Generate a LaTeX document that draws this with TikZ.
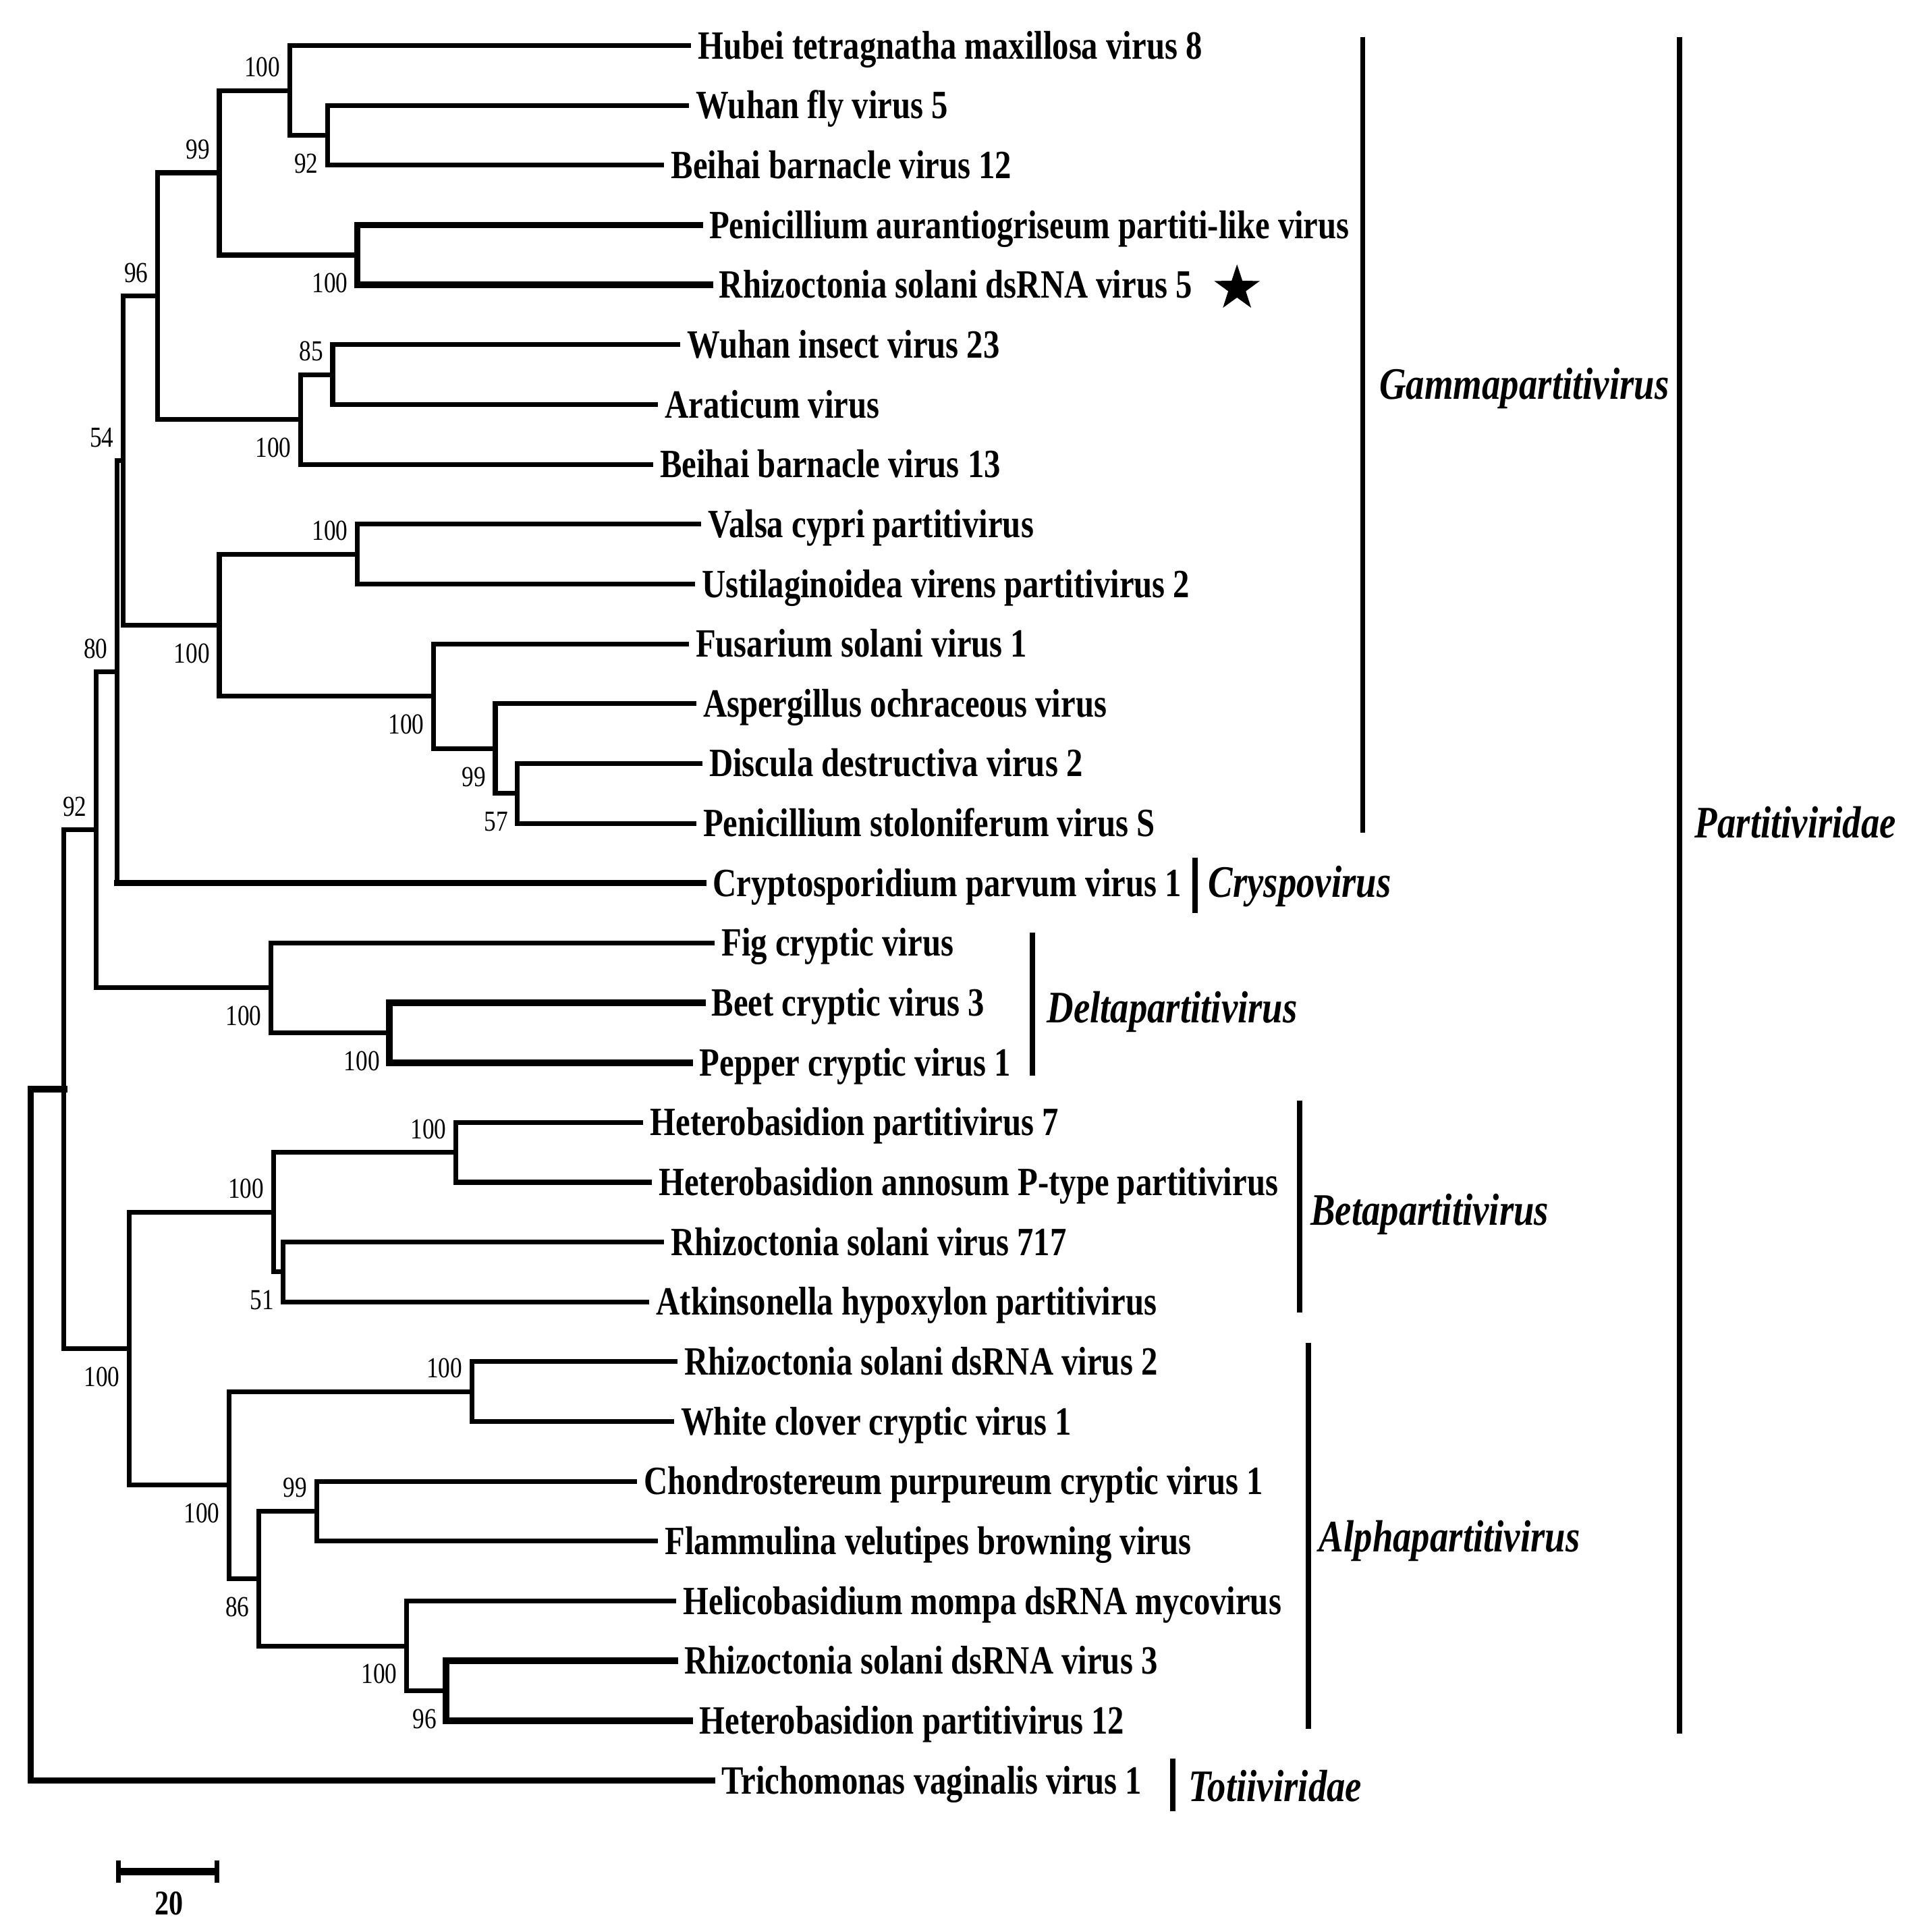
\documentclass[tikz,border=0pt]{standalone}
\usepackage{fontspec}
\setmainfont{Liberation Serif}[FakeStretch=0.82]
\usetikzlibrary{positioning,shapes.geometric}

\tikzset{
  branch/.style={line width=1.1pt, line cap=rect},
  fat/.style={line width=1.5pt},
  leaf/.style={anchor=west, inner xsep=2pt, inner ysep=0pt, text height=6.1pt, text depth=0pt,
    font=\fontsize{9.25}{11}\selectfont\bfseries},
  boot/.style={inner xsep=2pt, text height=4.5pt, text depth=0pt, font=\fontsize{6.7}{8}\selectfont},
  bsup/.style={boot, anchor=south east, inner ysep=3pt},
  bsdn/.style={boot, anchor=north east, inner ysep=4pt},
  clade/.style={anchor=west, inner sep=0pt, text height=6.9pt, text depth=0pt,
    font=\fontsize{10.4}{12}\selectfont\bfseries\itshape},
  bar/.style={line width=1.2pt},
}

\begin{document}
\begin{tikzpicture}[x=0.01cm, y=-0.01cm]
  \useasboundingbox (0,0) rectangle (1551,1568);

  % taxa
  \node[leaf] (hubei) at (559,37) {Hubei tetragnatha maxillosa virus 8};
  \node[leaf] (wfly) at (557,85.6) {Wuhan fly virus 5};
  \node[leaf] (bb12) at (537,134.1) {Beihai barnacle virus 12};
  \node[leaf] (pap) at (568,182.7) {Penicillium aurantiogriseum partiti-like virus};
  \node[leaf] (rs5) at (576,231.2) {Rhizoctonia solani dsRNA virus 5};
  \node[leaf] (wi23) at (550,279.8) {Wuhan insect virus 23};
  \node[leaf] (arat) at (532,328.3) {Araticum virus};
  \node[leaf] (bb13) at (528,376.9) {Beihai barnacle virus 13};
  \node[leaf] (vcp) at (567,425.4) {Valsa cypri partitivirus};
  \node[leaf] (uvp2) at (562,474) {Ustilaginoidea virens partitivirus 2};
  \node[leaf] (fsv1) at (557,522.5) {Fusarium solani virus 1};
  \node[leaf] (aov) at (563,571) {Aspergillus ochraceous virus};
  \node[leaf] (ddv2) at (568,619.6) {Discula destructiva virus 2};
  \node[leaf] (psvs) at (563,668.2) {Penicillium stoloniferum virus S};
  \node[leaf] (cpv1) at (571,716.7) {Cryptosporidium parvum virus 1};
  \node[leaf] (fcv) at (578,765.3) {Fig cryptic virus};
  \node[leaf] (bcv3) at (570,813.8) {Beet cryptic virus 3};
  \node[leaf] (pcv1) at (560,862.4) {Pepper cryptic virus 1};
  \node[leaf] (hp7) at (520,910.9) {Heterobasidion partitivirus 7};
  \node[leaf] (hap) at (527,959.5) {Heterobasidion annosum P-type partitivirus};
  \node[leaf] (rsv717) at (537,1008) {Rhizoctonia solani virus 717};
  \node[leaf] (ahp) at (525,1056.6) {Atkinsonella hypoxylon partitivirus};
  \node[leaf] (rs2) at (548,1105.1) {Rhizoctonia solani dsRNA virus 2};
  \node[leaf] (wccv1) at (545,1153.7) {White clover cryptic virus 1};
  \node[leaf] (cpcv1) at (515,1202.2) {Chondrostereum purpureum cryptic virus 1};
  \node[leaf] (fvbv) at (532,1250.8) {Flammulina velutipes browning virus};
  \node[leaf] (hmm) at (547,1299.3) {Helicobasidium mompa dsRNA mycovirus};
  \node[leaf] (rs3) at (548,1347.9) {Rhizoctonia solani dsRNA virus 3};
  \node[leaf] (hp12) at (560,1396.4) {Heterobasidion partitivirus 12};
  \node[leaf] (tvv1) at (578,1445) {Trichomonas vaginalis virus 1};
  \node[star, star points=5, star point ratio=2.6, fill=black, inner sep=0pt,
    minimum size=0.39cm] (mark) at (1004,234) {};

  % internal nodes
  \coordinate (g92) at (266,109.9);
  \coordinate (g100a) at (235,73.4);
  \coordinate (g100b) at (290,207);
  \coordinate (g99) at (178,140.2);
  \coordinate (g85) at (270,304);
  \coordinate (g100c) at (244,340.5);
  \coordinate (g96) at (128,240.3);
  \coordinate (g100d) at (290,449.7);
  \coordinate (g57) at (420,643.9);
  \coordinate (g99b) at (402,607.5);
  \coordinate (g100e) at (352,565);
  \coordinate (g100f) at (178,507.4);
  \coordinate (n54) at (100,373.8);
  \coordinate (n80) at (95,545.3);
  \coordinate (d100b) at (316,838.1);
  \coordinate (d100a) at (220,801.7);
  \coordinate (n92) at (78,673.5);
  \coordinate (b100b) at (370,935.2);
  \coordinate (b51) at (230,1032.3);
  \coordinate (b100a) at (222,983.8);
  \coordinate (a100b) at (383,1129.4);
  \coordinate (a99) at (257,1226.5);
  \coordinate (a96) at (362,1372.2);
  \coordinate (a100d) at (330,1335.8);
  \coordinate (a86) at (210,1281.2);
  \coordinate (a100a) at (186,1205.3);
  \coordinate (n100) at (105,1094.6);
  \coordinate (n52) at (52,884);
  \coordinate (root) at (25,1164.5);

  % branches
  \draw[branch] (wfly.west) -| (g92) |- (bb12.west);
  \draw[branch] (hubei.west) -| (g100a) |- (g92);
  \draw[branch,fat] (pap.west) -| (g100b) |- (rs5.west);
  \draw[branch] (g100a) -| (g99) |- (g100b);
  \draw[branch] (wi23.west) -| (g85) |- (arat.west);
  \draw[branch] (g85) -| (g100c) |- (bb13.west);
  \draw[branch] (g99) -| (g96) |- (g100c);
  \draw[branch] (vcp.west) -| (g100d) |- (uvp2.west);
  \draw[branch] (ddv2.west) -| (g57) |- (psvs.west);
  \draw[branch] (aov.west) -| (g99b) |- (g57);
  \draw[branch] (fsv1.west) -| (g100e) |- (g99b);
  \draw[branch] (g100d) -| (g100f) |- (g100e);
  \draw[branch] (g96) -| (n54) |- (g100f);
  \draw[branch] (n54) -| (n80) -- (n80 |- cpv1.west);
  \draw[branch,fat] (n80 |- cpv1.west) -- (cpv1.west);
  \draw[branch,fat] (bcv3.west) -| (d100b) |- (pcv1.west);
  \draw[branch] (fcv.west) -| (d100a) |- (d100b);
  \draw[branch] (n80) -| (n92) |- (d100a);
  \draw[branch] (hp7.west) -| (b100b) |- (hap.west);
  \draw[branch] (rsv717.west) -| (b51) |- (ahp.west);
  \draw[branch] (b100b) -| (b100a) |- (b51);
  \draw[branch] (rs2.west) -| (a100b) |- (wccv1.west);
  \draw[branch] (cpcv1.west) -| (a99) |- (fvbv.west);
  \draw[branch,fat] (rs3.west) -| (a96) |- (hp12.west);
  \draw[branch] (hmm.west) -| (a100d) |- (a96);
  \draw[branch] (a99) -| (a86) |- (a100d);
  \draw[branch] (a100b) -| (a100a) |- (a86);
  \draw[branch] (b100a) -| (n100) |- (a100a);
  \draw[branch] (n92) -| (n52) |- (n100);
  \draw[branch,fat] (n52) -| (root) |- (tvv1.west);

  % bootstrap values
  \node[bsup] (s-g100a) at (g100a) {100};
  \node[bsdn] (s-g92) at (g92) {92};
  \node[bsup] (s-g99) at (g99) {99};
  \node[bsdn] (s-g100b) at (g100b) {100};
  \node[bsup] (s-g96) at (g96) {96};
  \node[bsup] (s-g85) at (g85) {85};
  \node[bsdn] (s-g100c) at (g100c) {100};
  \node[bsup] (s-n54) at (n54) {54};
  \node[bsup] (s-g100d) at (g100d) {100};
  \node[bsdn] (s-g100f) at (g100f) {100};
  \node[bsdn] (s-g100e) at (g100e) {100};
  \node[bsdn] (s-g99b) at (g99b) {99};
  \node[bsdn] (s-g57) at (g57) {57};
  \node[bsup] (s-n80) at (n80) {80};
  \node[bsup] (s-n92) at (n92) {92};
  \node[bsdn] (s-d100a) at (d100a) {100};
  \node[bsdn] (s-d100b) at (d100b) {100};
  \node[bsup] (s-b100b) at (b100b) {100};
  \node[bsup] (s-b100a) at (b100a) {100};
  \node[bsdn] (s-b51) at (b51) {51};
  \node[bsdn] (s-n100) at (n100) {100};
  \node[bsup] (s-a100b) at (a100b) {100};
  \node[bsdn] (s-a100a) at (a100a) {100};
  \node[bsup] (s-a99) at (a99) {99};
  \node[bsdn] (s-a86) at (a86) {86};
  \node[bsdn] (s-a100d) at (a100d) {100};
  \node[bsdn] (s-a96) at (a96) {96};

  % clades
  \draw[bar] (1106,30) -- (1106,676);
  \node[clade] (gamma) at (1119,312) {Gammapartitivirus};
  \draw[bar] (970,696) -- (970,741);
  \node[clade] (cryspo) at (980,716) {Cryspovirus};
  \draw[bar] (838,757) -- (838,873);
  \node[clade] (delta) at (849,818) {Deltapartitivirus};
  \draw[bar] (1055,893) -- (1055,1065);
  \node[clade] (beta) at (1063,982) {Betapartitivirus};
  \draw[bar] (1062,1090) -- (1062,1403);
  \node[clade] (alpha) at (1070,1247) {Alphapartitivirus};
  \draw[bar] (1363,30) -- (1363,1407);
  \node[clade] (parti) at (1375,668) {Partitiviridae};
  \draw[bar] (952,1427) -- (952,1470);
  \node[clade] (toti) at (964,1450) {Totiiviridae};

  % scale bar
  \coordinate (sb-l) at (96,1519);
  \coordinate (sb-r) at (176,1519);
  \draw[line width=1.8pt] (sb-l) -- (sb-r);
  \draw[line width=1.1pt] (96,1510) -- (96,1528) (176,1510) -- (176,1528);
  \node[font=\fontsize{8}{9}\selectfont\bfseries] (sb-lab) at (137,1545) {20};
\end{tikzpicture}
\end{document}
